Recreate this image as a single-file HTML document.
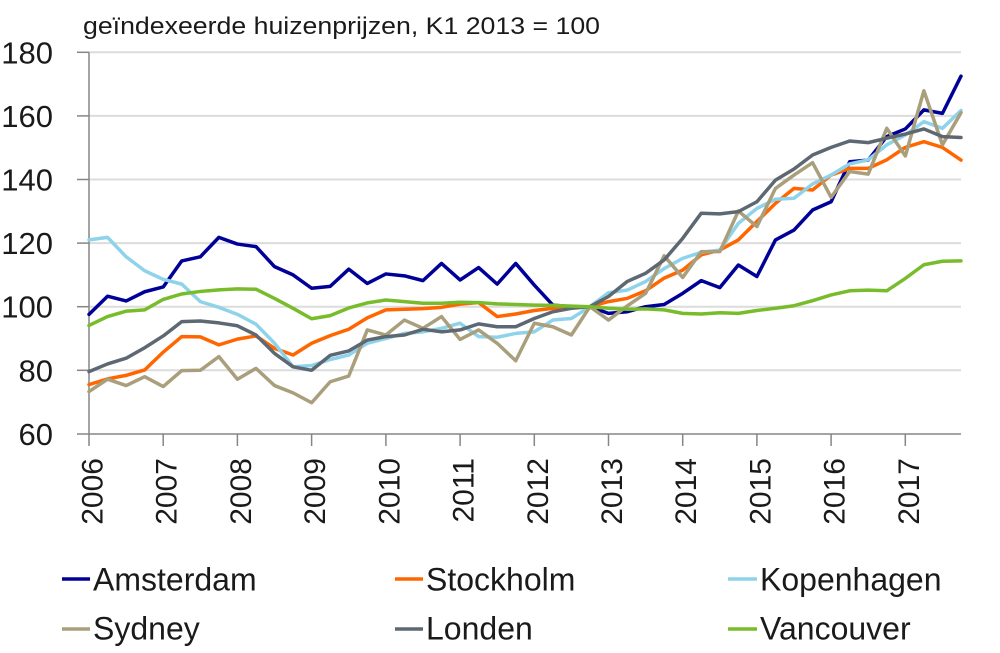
<!DOCTYPE html>
<html>
<head>
<meta charset="utf-8">
<style>
  html,body{margin:0;padding:0;background:#fff;}
  svg{display:block;}
  text{font-family:"Liberation Sans",sans-serif;fill:#1a1a1a;}
</style>
</head>
<body>
<svg width="1000" height="653" viewBox="0 0 1000 653" xmlns="http://www.w3.org/2000/svg">
  <rect width="1000" height="653" fill="#fff"/>
  <!-- title -->
  <text x="83" y="34" font-size="24" textLength="517" lengthAdjust="spacingAndGlyphs">geïndexeerde huizenprijzen, K1 2013 = 100</text>

  <!-- gridlines -->
  <g stroke="#dcdcdc" stroke-width="2">
    <line x1="89" y1="52.3" x2="961" y2="52.3"/>
    <line x1="89" y1="115.9" x2="961" y2="115.9"/>
    <line x1="89" y1="179.5" x2="961" y2="179.5"/>
    <line x1="89" y1="243.1" x2="961" y2="243.1"/>
    <line x1="89" y1="306.7" x2="961" y2="306.7"/>
    <line x1="89" y1="370.3" x2="961" y2="370.3"/>
  </g>

  <!-- axes -->
  <g stroke="#868686" stroke-width="1.5">
    <line x1="89" y1="52.3" x2="89" y2="434"/>
    <line x1="77" y1="434" x2="961" y2="434"/>
    <line x1="77" y1="52.3" x2="89" y2="52.3"/>
    <line x1="77" y1="115.9" x2="89" y2="115.9"/>
    <line x1="77" y1="179.5" x2="89" y2="179.5"/>
    <line x1="77" y1="243.1" x2="89" y2="243.1"/>
    <line x1="77" y1="306.7" x2="89" y2="306.7"/>
    <line x1="77" y1="370.3" x2="89" y2="370.3"/>
    <line x1="89" y1="434" x2="89" y2="446"/>
    <line x1="163.2" y1="434" x2="163.2" y2="446"/>
    <line x1="237.4" y1="434" x2="237.4" y2="446"/>
    <line x1="311.6" y1="434" x2="311.6" y2="446"/>
    <line x1="385.9" y1="434" x2="385.9" y2="446"/>
    <line x1="460.1" y1="434" x2="460.1" y2="446"/>
    <line x1="534.3" y1="434" x2="534.3" y2="446"/>
    <line x1="608.5" y1="434" x2="608.5" y2="446"/>
    <line x1="682.7" y1="434" x2="682.7" y2="446"/>
    <line x1="756.9" y1="434" x2="756.9" y2="446"/>
    <line x1="831.1" y1="434" x2="831.1" y2="446"/>
    <line x1="905.3" y1="434" x2="905.3" y2="446"/>
  </g>

  <!-- y labels -->
  <g font-size="31" text-anchor="end">
    <text x="53" y="63.3">180</text>
    <text x="53" y="126.9">160</text>
    <text x="53" y="190.5">140</text>
    <text x="53" y="254.1">120</text>
    <text x="53" y="317.7">100</text>
    <text x="53" y="381.3">80</text>
    <text x="53" y="444.9">60</text>
  </g>

  <!-- x labels -->
  <g font-size="30" text-anchor="end">
    <text transform="translate(102.5,458) rotate(-90)">2006</text>
    <text transform="translate(176.7,458) rotate(-90)">2007</text>
    <text transform="translate(250.9,458) rotate(-90)">2008</text>
    <text transform="translate(325.1,458) rotate(-90)">2009</text>
    <text transform="translate(399.4,458) rotate(-90)">2010</text>
    <text transform="translate(473.6,458) rotate(-90)">2011</text>
    <text transform="translate(547.8,458) rotate(-90)">2012</text>
    <text transform="translate(622,458) rotate(-90)">2013</text>
    <text transform="translate(696.2,458) rotate(-90)">2014</text>
    <text transform="translate(770.4,458) rotate(-90)">2015</text>
    <text transform="translate(844.6,458) rotate(-90)">2016</text>
    <text transform="translate(918.8,458) rotate(-90)">2017</text>
  </g>

  <!-- series (data coords: x = quarter index, y = index value) -->
  <g transform="matrix(18.553 0 0 -3.18 89 624.7)" fill="none" stroke-width="3.5" stroke-linejoin="round" stroke-linecap="round">
    <!-- Amsterdam -->
    <polyline vector-effect="non-scaling-stroke" stroke="#000099" points="0,97.6 1,103.3 2,101.8 3,104.7 4,106.2 5,114.4 6,115.7 7,121.8 8,119.7 9,118.9 10,112.6 11,110.0 12,105.8 13,106.4 14,111.8 15,107.3 16,110.3 17,109.7 18,108.2 19,113.6 20,108.4 21,112.3 22,107.1 23,113.6 24,106.8 25,100.5 26,100.0 27,100.0 28,97.9 29,98.4 30,100.0 31,100.7 32,104.2 33,108.2 34,106.0 35,113.1 36,109.5 37,121.0 38,124.1 39,130.4 40,133.0 41,145.6 42,146.1 43,153.5 44,155.9 45,161.9 46,160.8 47,172.5"/>
    <!-- Stockholm -->
    <polyline vector-effect="non-scaling-stroke" stroke="#ff6600" points="0,75.5 1,77.3 2,78.4 3,80.1 4,85.7 5,90.6 6,90.5 7,88.0 8,89.8 9,90.8 10,86.9 11,84.8 12,88.5 13,90.9 14,92.9 15,96.5 16,99.0 17,99.2 18,99.4 19,99.8 20,100.8 21,101.3 22,96.9 23,97.7 24,98.8 25,99.5 26,99.8 27,100.0 28,101.6 29,102.6 30,105.0 31,109.0 32,111.5 33,116.3 34,117.8 35,121.0 36,126.8 37,132.5 38,137.2 39,136.7 40,141.4 41,143.5 42,143.5 43,146.2 44,150.1 45,151.9 46,150.1 47,146.1"/>
    <!-- Kopenhagen -->
    <polyline vector-effect="non-scaling-stroke" stroke="#8fd3ea" points="0,121.0 1,121.8 2,115.7 3,111.3 4,108.6 5,107.1 6,101.6 7,99.8 8,97.6 9,94.5 10,88.5 11,81.1 12,81.5 13,83.4 14,84.8 15,88.5 16,90.0 17,91.6 18,92.1 19,93.2 20,94.8 21,90.6 22,90.4 23,91.6 24,92.1 25,95.8 26,96.3 27,100.0 28,104.4 29,105.2 30,107.9 31,112.0 32,115.2 33,117.1 34,117.8 35,126.2 36,130.9 37,133.8 38,134.1 39,138.6 40,141.4 41,144.9 42,146.2 43,150.9 44,154.0 45,158.2 46,156.1 47,161.7"/>
    <!-- Sydney -->
    <polyline vector-effect="non-scaling-stroke" stroke="#aa9f7c" points="0,73.3 1,77.2 2,75.2 3,78.0 4,74.9 5,79.9 6,80.0 7,84.3 8,77.2 9,80.6 10,75.2 11,72.9 12,69.8 13,76.4 14,78.2 15,92.7 16,91.1 17,95.8 18,93.2 19,96.9 20,89.7 21,92.7 22,88.5 23,83.0 24,94.8 25,93.7 26,91.1 27,100.0 28,95.8 29,100.2 30,104.2 31,116.0 32,109.2 33,117.3 34,117.3 35,130.1 36,125.2 37,137.2 38,141.4 39,145.3 40,134.4 41,142.5 42,141.7 43,156.1 44,147.4 45,167.9 46,150.9 47,161.0"/>
    <!-- Londen -->
    <polyline vector-effect="non-scaling-stroke" stroke="#5d6872" points="0,79.6 1,82.0 2,83.8 3,87.1 4,90.8 5,95.3 6,95.5 7,94.9 8,94.0 9,91.1 10,85.3 11,81.1 12,80.0 13,84.7 14,86.1 15,89.5 16,90.6 17,91.1 18,92.9 19,92.1 20,92.7 21,94.6 22,93.7 23,93.7 24,96.3 25,98.4 26,99.5 27,100.0 28,103.2 29,107.9 30,110.5 31,114.7 32,121.5 33,129.4 34,129.2 35,129.9 36,133.0 37,139.8 38,143.3 39,147.7 40,150.1 41,152.1 42,151.6 43,153.0 44,154.3 45,155.9 46,153.5 47,153.2"/>
    <!-- Vancouver -->
    <polyline vector-effect="non-scaling-stroke" stroke="#78bc2b" points="0,94.1 1,96.9 2,98.6 3,99.0 4,102.3 5,104.0 6,104.8 7,105.3 8,105.6 9,105.5 10,102.6 11,99.5 12,96.2 13,97.2 14,99.6 15,101.2 16,102.1 17,101.6 18,101.1 19,101.1 20,101.4 21,101.3 22,100.9 23,100.7 24,100.5 25,100.4 26,100.2 27,100.0 28,99.5 29,99.2 30,99.3 31,99.0 32,97.9 33,97.7 34,98.1 35,97.9 36,98.8 37,99.5 38,100.3 39,101.9 40,103.7 41,105.0 42,105.2 43,105.0 44,108.9 45,113.2 46,114.3 47,114.4"/>
  </g>

  <!-- legend -->
  <g stroke-width="3.5">
    <line x1="62" y1="579" x2="90" y2="579" stroke="#000099"/>
    <line x1="395" y1="579" x2="423" y2="579" stroke="#ff6600"/>
    <line x1="728" y1="579" x2="757" y2="579" stroke="#8fd3ea"/>
    <line x1="62" y1="629" x2="90" y2="629" stroke="#aa9f7c"/>
    <line x1="395" y1="629" x2="423" y2="629" stroke="#5d6872"/>
    <line x1="728" y1="629" x2="757" y2="629" stroke="#78bc2b"/>
  </g>
  <g font-size="32">
    <text x="93" y="590.5">Amsterdam</text>
    <text x="426" y="590.5">Stockholm</text>
    <text x="760" y="590.5">Kopenhagen</text>
    <text x="93" y="639.5">Sydney</text>
    <text x="426" y="639.5">Londen</text>
    <text x="760" y="639.5">Vancouver</text>
  </g>
</svg>
</body>
</html>
